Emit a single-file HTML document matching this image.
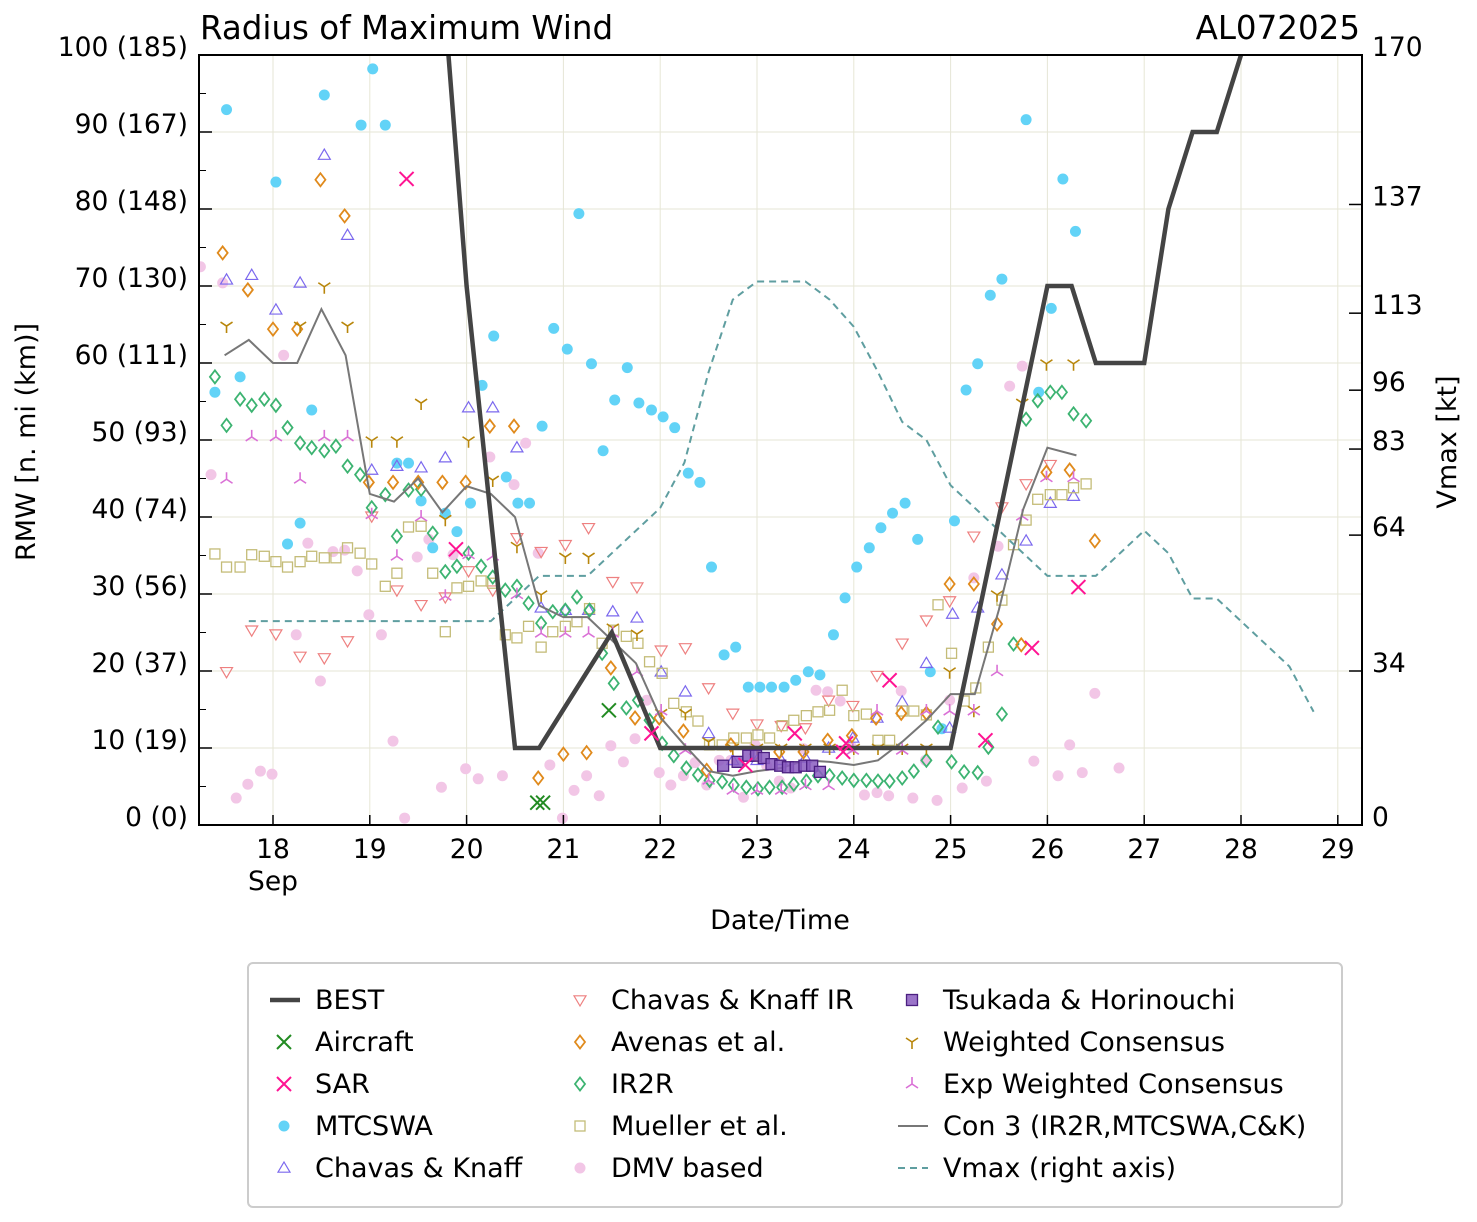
<!DOCTYPE html>
<html><head><meta charset="utf-8"><style>
body{margin:0;background:#fff;}
svg{display:block;font-family:"DejaVu Sans","Liberation Sans",sans-serif;}
</style></head><body>
<svg id="chart" width="1477" height="1222" viewBox="0 0 1477 1222" xmlns="http://www.w3.org/2000/svg">
<rect width="1477" height="1222" fill="#fff"/>
<g id="grid"></g>
<g id="series"></g>
<rect x="199" y="55" width="1163" height="770" fill="none" stroke="#000" stroke-width="2"/>
<g id="axes"></g>
<text x="200" y="39" font-size="32.5">Radius of Maximum Wind</text>
<text x="1360" y="39" font-size="32.5" text-anchor="end">AL072025</text>
<text x="780" y="929" font-size="27" text-anchor="middle">Date/Time</text>
<text transform="translate(35,442) rotate(-90)" font-size="27" text-anchor="middle">RMW [n. mi (km)]</text>
<text transform="translate(1456,442) rotate(-90)" font-size="27" text-anchor="middle">Vmax [kt]</text>
<g id="legend"></g>
</svg>
<script>
const xDays=[18,19,20,21,22,23,24,25,26,27,28,29];
const yTicks=[0,10,20,30,40,50,60,70,80,90,100];
const yTickLabels=["0 (0)","10 (19)","20 (37)","30 (56)","40 (74)","50 (93)","60 (111)","70 (130)","80 (148)","90 (167)","100 (185)"];
const vTicks=[0,34,64,83,96,113,137,170];

const bestT=[19.75,20.0,20.5,20.75,21.0,21.25,21.5,22.0,22.25,22.5,23,23.5,24,24.5,25.0,25.5,26.0,26.25,26.5,27.0,27.25,27.5,27.75,28.0];
const bestV=[110,70,10,10,15,20,25,10,10,10,10,10,10,10,10,40,70,70,60,60,80,90,90,100];

const vmaxT=[17.75,20.25,20.75,21.25,22.0,22.25,22.5,22.75,23.0,23.5,23.75,24.0,24.25,24.5,24.75,25.0,25.25,25.5,25.75,26.0,26.5,26.75,27.0,27.25,27.5,27.75,28.0,28.25,28.5,28.75];
const vmaxV=[45,45,55,55,70,80,100,116,120,120,116,110,100,89,85,75,70,65,60,55,55,60,65,60,50,50,45,40,35,25];

const con3T=[17.5,17.75,18.0,18.25,18.5,18.75,19.0,19.25,19.5,19.75,20.0,20.25,20.5,20.75,21.0,21.25,21.5,21.75,22.0,22.25,22.5,22.75,23.0,23.25,23.5,23.75,24.0,24.25,24.5,24.75,25.0,25.25,25.5,25.75,26.0,26.3];
const con3V=[61,63,60,60,67,61,43,42,45,40.6,44,43,40,28.5,27,27,24,21,14,10.4,7,6.4,7,7.4,8.4,8.2,7.8,8.4,10.8,13.6,17,17,28,41,49,48];

const mtcT=[17.52,17.66,17.40,18.03,18.15,18.28,18.40,18.53,18.91,19.03,19.16,19.28,19.40,19.53,19.65,19.78,19.90,20.04,20.16,20.28,20.41,20.53,20.65,20.78,20.90,21.04,21.16,21.29,21.41,21.53,21.66,21.78,21.91,22.03,22.15,22.29,22.41,22.53,22.66,22.78,22.91,23.03,23.15,23.28,23.40,23.53,23.65,23.79,23.91,24.03,24.16,24.28,24.40,24.53,24.66,24.79,24.91,25.04,25.16,25.28,25.41,25.53,25.78,25.91,26.04,26.16,26.29];
const mtcV=[92.9,58.2,56.2,83.5,36.5,39.2,53.9,94.8,90.9,98.2,90.9,47,47,42.1,36,40.5,38.1,41.8,57.1,63.5,45.2,41.8,41.8,51.8,64.5,61.8,79.4,59.9,48.6,55.2,59.4,54.8,53.9,53,51.6,45.7,44.5,33.5,22.1,23.1,17.9,17.9,17.9,17.9,18.8,19.9,19.5,24.7,29.5,33.5,36,38.6,40.5,41.8,37.1,19.9,12.5,39.5,56.5,59.9,68.8,70.9,91.6,56.2,67.1,83.9,77.1];

const ckT=[17.52,17.78,18.03,18.28,18.53,18.77,19.02,19.28,19.53,19.78,20.02,20.27,20.52,20.77,21.02,21.26,21.51,21.76,22.01,22.26,22.50,22.75,23.00,23.25,23.50,23.74,23.99,24.24,24.50,24.75,24.99,25.02,25.28,25.53,25.78,26.03,26.27];
const ckV=[70.8,71.4,66.9,70.4,87,76.6,46.1,46.6,46.4,47.7,54.2,54.2,49,28.2,27.9,27.9,27.7,26.9,19.9,17.3,11.9,8.4,8.4,8.4,8.7,10,11.3,13.9,16,21,12.6,27.4,28.2,32.5,36.9,41.8,42.7];

const ckirT=[17.52,17.78,18.03,18.28,18.53,18.77,19.02,19.28,19.53,19.78,20.02,20.27,20.52,20.77,21.02,21.26,21.51,21.76,22.01,22.26,22.50,22.75,23.00,23.25,23.50,23.74,23.99,24.24,24.50,24.75,24.99,25.24,25.53,25.78,26.03];
const ckirV=[19.9,25.3,24.8,21.9,21.7,23.9,40.1,30.5,28.6,29.6,33,30.5,37.3,35.5,36.4,38.6,31.6,30.9,22.7,23,17.8,14.5,13.1,12.9,12.6,16.2,15.5,19.4,23.6,26.6,29.1,37.5,41.3,44.3,46.8];

const aveT=[17.48,17.74,18.00,18.25,18.49,18.74,18.99,19.24,19.50,19.75,19.99,20.24,20.49,20.74,21.00,21.24,21.49,21.74,21.99,22.24,22.48,22.73,22.98,23.23,23.48,23.73,23.98,24.23,24.49,24.75,24.99,25.24,25.48,25.73,25.99,26.23,26.49];
const aveV=[74.3,69.5,64.4,64.4,83.8,79.1,44.5,44.5,44.5,44.5,44.5,51.8,51.8,6.1,9.2,9.4,20.4,13.9,13.9,12.2,7.1,10.4,9.2,9.5,9.5,11,11.6,13.9,14.5,14.5,31.3,31.3,26.1,23.4,45.8,46.1,36.9];

const ir2rT=[17.40,17.52,17.66,17.78,17.91,18.03,18.15,18.28,18.40,18.53,18.65,18.77,18.90,19.02,19.16,19.28,19.40,19.53,19.65,19.78,19.90,20.02,20.15,20.27,20.40,20.52,20.64,20.77,20.89,21.02,21.14,21.27,21.40,21.52,21.65,21.77,21.89,22.02,22.14,22.27,22.39,22.51,22.64,22.76,22.89,23.01,23.13,23.26,23.38,23.51,23.63,23.75,23.88,24.00,24.13,24.25,24.37,24.50,24.62,24.75,24.87,25.01,25.14,25.28,25.39,25.53,25.65,25.78,25.90,26.03,26.15,26.27,26.40];
const ir2rV=[58.2,51.9,55.3,54.5,55.3,54.5,51.6,49.6,49,48.6,49.2,46.6,45.5,41.2,42.9,37.5,43.5,43.6,37.9,32.9,33.6,35.3,33.6,32.2,30.5,31,28.8,26.2,27.7,27.9,29.6,27.9,22.3,18.4,15.2,16.2,13.6,10.6,9,7.4,6.5,5.8,5.6,5.2,4.9,4.7,4.9,4.9,5.3,5.7,6.4,6.4,6.1,5.8,5.8,5.7,5.7,6.1,7,8.4,12.7,8.2,6.9,6.8,10.1,14.4,23.5,52.7,55.1,56.2,56.2,53.4,52.5];

const muelT=[17.40,17.52,17.66,17.78,17.91,18.03,18.15,18.28,18.40,18.53,18.65,18.77,18.90,19.02,19.16,19.28,19.40,19.53,19.65,19.78,19.90,20.02,20.15,20.27,20.40,20.52,20.64,20.77,20.89,21.02,21.14,21.27,21.40,21.52,21.65,21.77,21.89,22.02,22.14,22.27,22.39,22.51,22.64,22.76,22.89,23.01,23.13,23.26,23.38,23.51,23.63,23.75,23.88,24.00,24.13,24.25,24.37,24.50,24.62,24.75,24.87,25.01,25.14,25.26,25.39,25.53,25.65,25.78,25.90,26.03,26.15,26.27,26.40];
const muelV=[35.2,33.5,33.5,35.1,34.9,34.2,33.5,34.2,34.9,34.7,34.7,36,35.3,33.9,31,32.7,38.7,38.8,32.7,25.1,30.8,31,31.7,31.4,24.7,24.3,25.8,23.1,25.1,25.8,26.4,28.1,23.6,25.3,24.5,23.6,21.2,19.7,15.8,14.7,13.5,10.4,10.4,11.3,11.3,11.7,11.3,12.9,13.6,14.2,14.7,14.9,17.5,14.2,14.4,11,11,14.8,14.8,14.3,28.6,22.3,16.1,17.8,23.1,29.2,36.4,39.6,42.3,42.9,42.9,43.8,44.3];

const dmvT=[17.25,17.36,17.48,17.62,17.74,17.87,17.99,18.11,18.24,18.36,18.49,18.62,18.74,18.87,18.99,19.12,19.24,19.36,19.49,19.61,19.74,19.86,19.99,20.12,20.24,20.37,20.49,20.61,20.74,20.86,20.99,21.11,21.24,21.37,21.49,21.62,21.74,21.86,21.99,22.11,22.24,22.36,22.48,22.61,22.73,22.86,22.98,23.10,23.23,23.35,23.48,23.61,23.73,23.86,23.98,24.11,24.24,24.36,24.49,24.61,24.74,24.86,24.99,25.12,25.24,25.37,25.49,25.61,25.74,25.86,26.11,26.23,26.36,26.49,26.74];
const dmvV=[72.5,45.5,70.4,3.5,5.3,7,6.6,61,24.7,36.6,18.7,35.5,35.7,33,27.3,24.7,10.9,0.9,34.8,37.1,4.9,35.1,7.3,6,47.8,6.4,44.2,49.6,35.3,7.8,0.9,4.5,6.4,3.8,10.3,8.2,11.2,16.2,6.8,5.2,6.4,8.1,5.2,8.4,8.4,3.6,10.4,7.7,5.7,4.8,9.9,17.5,17.3,16.1,10.1,3.9,4.2,3.8,17.4,3.5,8.4,3.2,16.2,4.8,32.1,5.7,36.2,57,59.6,8.3,6.4,10.4,6.8,17.1,7.4];

const wcT=[17.52,18.28,18.53,18.77,19.02,19.28,19.53,19.78,20.02,20.27,20.52,20.77,21.02,21.26,21.51,21.76,22.01,22.26,22.50,22.75,23.0,23.25,23.5,23.75,24.0,24.25,24.5,24.75,24.99,25.24,25.48,25.74,25.99,26.27];
const wcV=[64.8,64.8,69.9,64.8,49.9,49.9,54.8,39.7,49.9,44.8,36.2,29.9,34.8,34.8,25.6,24.8,14.5,14.5,10.8,10,10,10,10,10,10,10,10,10,19.9,14.9,29.9,54.8,59.9,59.9];

const ewcT=[17.52,17.78,18.03,18.28,18.53,18.77,19.02,19.28,19.53,19.78,20.02,20.27,20.52,20.77,21.02,21.26,21.51,21.76,22.01,22.26,22.50,22.75,23.00,23.25,23.50,23.74,23.99,24.24,24.50,24.75,24.99,25.24,25.48,25.74,25.99,26.27];
const ewcV=[44.9,50.4,50.4,44.9,50.4,50.4,40.3,34.9,40,29.7,35.1,34.9,29.9,24.9,24.9,24.9,24.9,19.9,14.8,9.7,5.8,4.5,4.5,4.5,5.1,5.1,9.7,14.8,9.7,14.8,14.8,14.8,19.9,40.1,45.1,45.1];

const sarT=[19.38,19.89,21.91,22.88,23.39,23.89,23.92,24.37,25.36,25.84,26.32];
const sarV=[83.9,35.8,11.9,7.8,11.9,9.5,10.6,18.8,11,23,30.9];
const acT=[20.73,20.79,21.47];
const acV=[2.9,2.9,14.9];
const tsuT=[22.65,22.80,22.91,22.99,23.07,23.15,23.24,23.32,23.40,23.49,23.57,23.65];
const tsuV=[7.7,8.2,9,9,8.7,7.9,7.7,7.5,7.5,7.7,7.7,6.9];

const NS="http://www.w3.org/2000/svg";
const L=199,R=1362,T=55,B=825;
function X(d){return 273+(d-18)*96.8;}
function Y(v){return B-(v/100)*(B-T);}
function YV(k){return B-(k/170)*(B-T);}
function mk(tag,attrs,parent){const e=document.createElementNS(NS,tag);for(const k in attrs)e.setAttribute(k,attrs[k]);parent.appendChild(e);return e;}
const grid=document.getElementById('grid'),axes=document.getElementById('axes'),ser=document.getElementById('series');

xDays.forEach(d=>{
  const x=X(d);
  const g=mk('line',{x1:x,x2:x,y1:T,y2:B,stroke:'#e6e6d6','stroke-width':1},grid);
  
  
  const t=mk('line',{x1:x,x2:x,y1:B,y2:B-10,stroke:'#000','stroke-width':1.5},axes);
  
  
  const lb=mk('text',{x:x,y:858,'font-size':26.5,'text-anchor':'middle'},axes);
  lb.textContent=d;
  
  
});
const sep=mk('text',{x:X(18),y:890,'font-size':26.5,'text-anchor':'middle'},axes);
sep.textContent='Sep';



yTicks.forEach((v,i)=>{
  const y=Y(v);
  const g=mk('line',{x1:L,x2:R,y1:y,y2:y,stroke:'#e6e6d6','stroke-width':1},grid);
  
  
  const t=mk('line',{x1:L,x2:L+13,y1:y,y2:y,stroke:'#000','stroke-width':1.5},axes);
  
  
  if(v<100){const m=mk('line',{x1:L,x2:L+7,y1:Y(v+5),y2:Y(v+5),stroke:'#000','stroke-width':1},axes);
  
  }
  const lb=mk('text',{x:188,y:y+1,'font-size':26.5,'text-anchor':'end'},axes);
  lb.textContent=yTickLabels[i];
  
  
});
vTicks.forEach(k=>{
  const y=YV(k);
  const t=mk('line',{x1:R-13,x2:R,y1:y,y2:y,stroke:'#000','stroke-width':1.5},axes);
  
  
  const lb=mk('text',{x:1372,y:y+1,'font-size':26.5},axes);
  lb.textContent=k;
  
  
});

const clip=mk('clipPath',{id:'pc'},document.getElementById('chart'));
mk('rect',{x:L,y:T,width:R-L,height:B-T},clip);
ser.setAttribute('clip-path','url(#pc)');

function poly(ts,vs,yf,attrs,name){
  const p=mk('polyline',Object.assign({fill:'none',points:ts.map((t,i)=>X(t)+','+yf(vs[i])).join(' ')},attrs),ser);
  
  
}
function marker(g,type,x,y,c){
  const s=6;
  if(type==='circle')return mk('circle',{cx:x,cy:y,r:5.5,fill:c},g);
  if(type==='tri')return mk('polygon',{points:`${x},${y-s} ${x-s},${y+s*0.7} ${x+s},${y+s*0.7}`,fill:'none',stroke:c,'stroke-width':1.2},g);
  if(type==='trid')return mk('polygon',{points:`${x},${y+s} ${x-s},${y-s*0.7} ${x+s},${y-s*0.7}`,fill:'none',stroke:c,'stroke-width':1.2},g);
  if(type==='diamond')return mk('polygon',{points:`${x},${y-6.5} ${x+5},${y} ${x},${y+6.5} ${x-5},${y}`,fill:'none',stroke:c,'stroke-width':1.8},g);
  if(type==='square')return mk('rect',{x:x-5,y:y-5,width:10,height:10,fill:'none',stroke:c,'stroke-width':1.3},g);
  if(type==='fsquare')return mk('rect',{x:x-5.5,y:y-5.5,width:11,height:11,fill:'#8a5cc0','fill-opacity':0.85,stroke:'#4b1f80','stroke-width':1.3},g);
  if(type==='x')return mk('path',{d:`M${x-7},${y-7}L${x+7},${y+7}M${x-7},${y+7}L${x+7},${y-7}`,stroke:c,'stroke-width':2},g);
  if(type==='y1')return mk('path',{d:`M${x},${y}V${y+7}M${x},${y}L${x-6},${y-4}M${x},${y}L${x+6},${y-4}`,stroke:c,'stroke-width':1.6,fill:'none'},g);
  if(type==='y2')return mk('path',{d:`M${x},${y}V${y-7}M${x},${y}L${x-6},${y+4}M${x},${y}L${x+6},${y+4}`,stroke:c,'stroke-width':1.6,fill:'none'},g);
}
function scatter(ts,vs,type,c,name){
  const g=mk('g',{},ser);
  
  
  ts.forEach((t,i)=>{const m=marker(g,type,X(t),Y(vs[i]),c);
    
    });
}
const COL={mtc:'#62d3f7',ck:'#7b68ee',ckir:'#ee8080',ave:'#e08a1c',ir2r:'#3cb371',muel:'#c4bc78',dmv:'#f2c6e6',wc:'#b8860b',ewc:'#da70d6',sar:'#ff1493',ac:'#228b22'};
scatter(dmvT,dmvV,'circle',COL.dmv,'dmv-series');
scatter(mtcT,mtcV,'circle',COL.mtc,'mtcswa-series');
scatter(ckT,ckV,'tri',COL.ck,'chavas-knaff-series');
scatter(ckirT,ckirV,'trid',COL.ckir,'chavas-knaff-ir-series');
scatter(muelT,muelV,'square',COL.muel,'mueller-series');
scatter(ir2rT,ir2rV,'diamond',COL.ir2r,'ir2r-series');
scatter(aveT,aveV,'diamond',COL.ave,'avenas-series');
scatter(wcT,wcV,'y1',COL.wc,'weighted-consensus-series');
scatter(ewcT,ewcV,'y2',COL.ewc,'exp-weighted-consensus-series');
poly(con3T,con3V,Y,{stroke:'#777','stroke-width':2},'con3-line');
poly(vmaxT,vmaxV,YV,{stroke:'#5f9ea0','stroke-width':2,'stroke-dasharray':'7,5'},'vmax-line');
poly(bestT,bestV,Y,{stroke:'#444','stroke-width':4.5,'stroke-linejoin':'miter'},'best-track-line');
scatter(tsuT,tsuV,'fsquare','#8a5cc0','tsukada-series');
scatter(sarT,sarV,'x',COL.sar,'sar-series');
scatter(acT,acV,'x',COL.ac,'aircraft-series');

// legend
const lg=document.getElementById('legend');
mk('rect',{x:248,y:963,width:1094,height:244,rx:5,fill:'#fff',stroke:'#cccccc','stroke-width':2},lg);
const entries=[
 ['BEST','line',{stroke:'#444','stroke-width':4.5}],
 ['Aircraft','x',COL.ac],['SAR','x',COL.sar],['MTCSWA','circle',COL.mtc],['Chavas & Knaff','tri',COL.ck],
 ['Chavas & Knaff IR','trid',COL.ckir],['Avenas et al.','diamond',COL.ave],['IR2R','diamond',COL.ir2r],['Mueller et al.','square',COL.muel],['DMV based','circle',COL.dmv],
 ['Tsukada & Horinouchi','fsquare','#8a5cc0'],['Weighted Consensus','y1',COL.wc],['Exp Weighted Consensus','y2',COL.ewc],
 ['Con 3 (IR2R,MTCSWA,C&K)','line',{stroke:'#777','stroke-width':2}],['Vmax (right axis)','line',{stroke:'#5f9ea0','stroke-width':2,'stroke-dasharray':'7,5'}]
];
const colX=[284,580,912];
entries.forEach((e,i)=>{
  const c=Math.floor(i/5),r=i%5;
  const mx=colX[c],my=1000+r*42;
  const g=mk('g',{},lg);
  
  
  if(e[1]==='line')mk('line',Object.assign({x1:mx-14,x2:mx+16,y1:my,y2:my},e[2]),g);
  else marker(g,e[1],mx,my,e[2]);
  const t=mk('text',{x:mx+31,y:my+9,'font-size':27},g);
  t.textContent=e[0];
});
</script>
</body></html>
